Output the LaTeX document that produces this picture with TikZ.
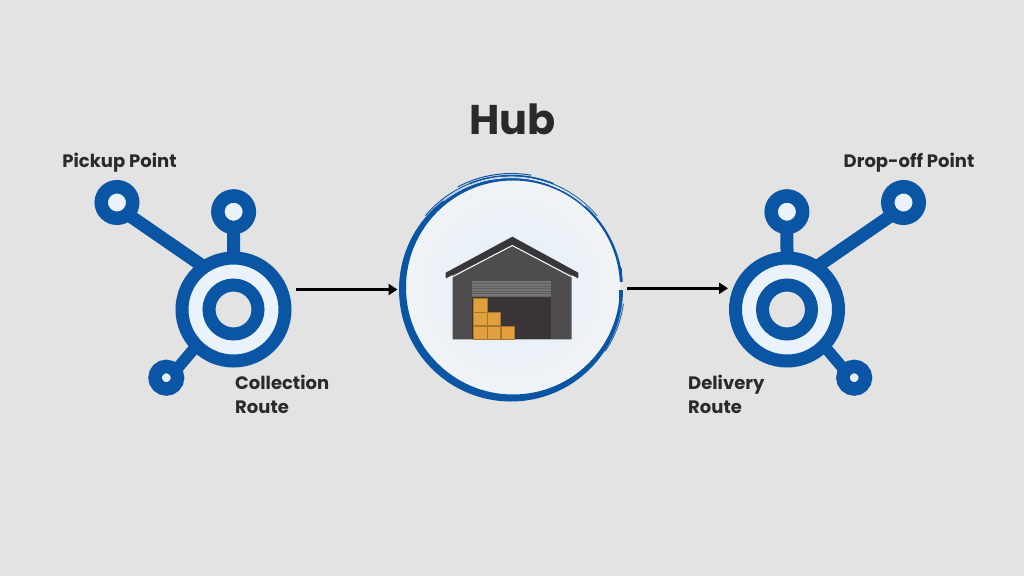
\documentclass[tikz,border=0pt]{standalone}
\usepackage{fontspec}
\setmainfont{Poppins}
\usetikzlibrary{arrows.meta}
\definecolor{bgc}{HTML}{E3E3E3}
\definecolor{hubblue}{HTML}{0A56A4}
\definecolor{pale}{HTML}{EAF3FC}
\definecolor{discin}{HTML}{E3EEFA}
\definecolor{discout}{HTML}{F1F3F6}
\definecolor{ink}{HTML}{2A2A2A}
\definecolor{wall}{HTML}{4E4C4D}
\definecolor{roof}{HTML}{38363A}
\definecolor{inside}{HTML}{393536}
\definecolor{shutter}{HTML}{767576}
\definecolor{box}{HTML}{E0A03E}
\definecolor{boxline}{HTML}{A8752B}
\tikzset{
  x=1pt,y=-1pt,
  lab/.style={font=\bfseries\fontsize{18}{22}\selectfont,text=ink,inner sep=0pt,anchor=base west},
  sat/.style={circle,draw=hubblue,fill=pale,inner sep=0pt,line width=13.5pt,minimum size=31.5pt},
  small sat/.style={circle,draw=hubblue,fill=pale,inner sep=0pt,line width=13.5pt,minimum size=22.5pt},
  outer ring/.style={circle,draw=hubblue,fill=pale,inner sep=0pt,line width=13pt,minimum size=103pt},
  inner ring/.style={circle,draw=hubblue,fill=bgc,inner sep=0pt,line width=13pt,minimum size=49pt},
  spoke/.style={hubblue,line width=13pt,shorten >=-3pt,shorten <=-3pt},
  thin spoke/.style={hubblue,line width=11.5pt,shorten >=-3pt,shorten <=-3pt},
  flow/.style={black,line width=2.7pt,-{Triangle[length=9pt,width=11pt]}},
  crate/.style={draw=boxline,line width=.5pt,fill=box,minimum size=13.2pt,inner sep=0pt,anchor=north west},
}
\begin{document}
\begin{tikzpicture}
\useasboundingbox (0,0) rectangle (1024,576);
\fill[bgc] (0,0) rectangle (1024,576);
% centre disc
\coordinate (C) at (511.5,288);
\shade[inner color=discin,outer color=discout] (C) circle[radius=109];
% brush ring: crescent, heavy at lower left, fine at upper right
\fill[hubblue,even odd rule] (511,289.5) circle[radius=112] (513,287.5) circle[radius=107];
% streaks
\foreach \a/\b/\w/\r in {
  -68/-112/1.4/112.5,-80/-118/1/114.5,-62/-95/.8/112,-100/-140/.9/112.5,
  -40/-62/.7/112,4/20/.8/110,8/34/.8/113}{
  \draw[hubblue,line width=\w pt] ([shift={(\a:\r)}]C) arc[start angle=\a,end angle=\b,radius=\r];
}
\foreach \a/\b/\r in {-62/-100/110.3,-48/-70/110.3,-100/-128/110.5}{
  \draw[discout,line width=.7pt] ([shift={(\a:\r)}]C) arc[start angle=\a,end angle=\b,radius=\r];
}
% break in the stroke on the right
\fill[bgc] (619.5,282) rectangle (626,290);
\fill[discout] (615,282) rectangle (619.5,290);
\draw[hubblue,line width=.8pt] (621.3,268) -- (621.8,280);
\draw[hubblue,line width=.8pt] (619.3,290) -- (619.3,303);
\draw[hubblue,line width=.6pt] (620.8,292) -- (620.5,300);
% warehouse
\fill[wall] (452.7,339.3) -- (452.7,274) -- (512.3,243) -- (571.7,274) -- (571.7,339.3) -- cycle;
\fill[roof] (445.7,272.7) -- (512.3,236.7) -- (578.3,272.7) -- (578.3,278.3) -- (512.3,245) -- (445.7,278.3) -- cycle;
\draw[white!90!bgc,line width=1pt] (451,277.5) -- (512.3,245.5) -- (573,277.5);
\fill[inside] (472.3,296) rectangle (551.3,339.3);
\fill[shutter] (472.3,281) rectangle (551.3,296);
\foreach \yy in {283.5,286,288.5,291,293.5}{
  \draw[wall!90!white,line width=.4pt] (472.3,\yy) -- (551.3,\yy);
}
\draw[black!60,line width=.8pt] (472.3,296.2) -- (551.3,296.2);
\foreach \xx/\yy in {473.3/298.3,473.3/312,473.3/325.7,487/312,487/325.7,500.7/325.7}{
  \node[crate] at (\xx,\yy) {};
}
% left cluster
\node[sat] (p1) at (117,202.5) {};
\node[sat] (p2) at (233.6,211.7) {};
\node[small sat] (p3) at (166.3,377.7) {};
\node[outer ring] (hubL) at (233.5,309.5) {};
\node[inner ring] (coreL) at (233.5,309.5) {};
\draw[spoke] (p1.-44) -- (hubL.127);
\draw[spoke] (p2.south) -- (hubL.north);
\draw[thin spoke] (p3.42) -- (hubL.-135);
% right cluster
\node[sat] (q1) at (903.5,202.5) {};
\node[sat] (q2) at (786.9,211.7) {};
\node[small sat] (q3) at (854.2,377.7) {};
\node[outer ring] (hubR) at (787,309.5) {};
\node[inner ring] (coreR) at (787,309.5) {};
\draw[spoke] (q1.-136) -- (hubR.53);
\draw[spoke] (q2.south) -- (hubR.north);
\draw[thin spoke] (q3.138) -- (hubR.-45);
% flows
\coordinate (a1) at (296,289.5);
\coordinate (a2) at (397.5,289.5);
\coordinate (b1) at (627,288.3);
\coordinate (b2) at (728,288.3);
\draw[flow] (a1) -- (a2);
\draw[flow] (b1) -- (b2);
% labels
\node[lab,anchor=base,font=\bfseries\fontsize{41.5}{48}\selectfont] (t0) at (512.5,134) {Hub};
\node[lab,anchor=base] (t1) at (119.5,167.5) {Pickup Point};
\node[lab,anchor=base] (t2) at (909,167.5) {Drop-off Point};
\node[lab] (t3) at (235,389) {Collection};
\node[lab] (t4) at (235,413) {Route};
\node[lab] (t5) at (688,389) {Delivery};
\node[lab] (t6) at (688,413) {Route};
\end{tikzpicture}
\end{document}
